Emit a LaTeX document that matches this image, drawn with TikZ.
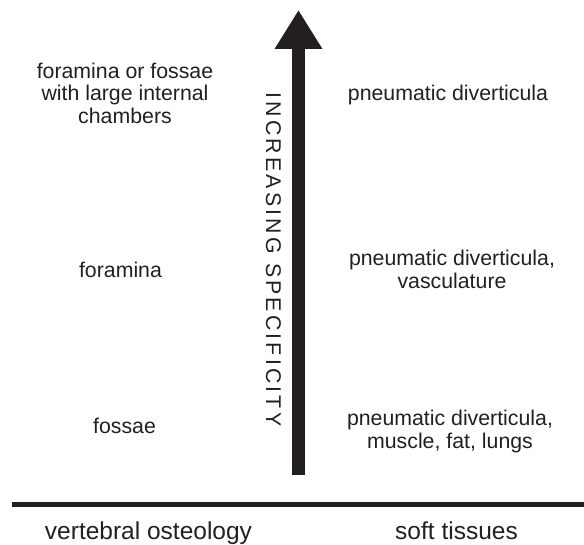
\documentclass[tikz,border=0pt]{standalone}
\usepackage{fontspec}
\setmainfont{Liberation Sans}
\usetikzlibrary{arrows.meta}
\definecolor{ink}{HTML}{231F20}

\begin{document}
\begin{tikzpicture}[x=1pt, y=1pt,
	txt/.style={text=ink, font=\fontsize{21.3}{22.5}\selectfont, align=center, inner sep=0pt, anchor=base},
	axistxt/.style={txt, font=\fontsize{24.5}{27}\selectfont}]
			\useasboundingbox (0,0) rectangle (584,545);
			
			% Mũi tên
			\coordinate (A0) at (298.5,70);
			\coordinate (A1) at (298.5,535);
			\draw[ink, line width=13pt, -{Triangle[width=45pt,length=39pt]}] (A0) -- (A1);
			\node[txt, anchor=center, rotate=-90, font=\fontsize{21.3}{22.5}\selectfont\addfontfeature{LetterSpace=15}] (spec) at (273.5,285.5) {INCREASING SPECIFICITY};
			
			% Đường ngang
			\coordinate (L0) at (12,40.5);
			\coordinate (L1) at (584,40.5);
			\draw[ink, line width=5pt] (L0) -- (L1);
			
			% Cột trái
			\node[txt] (fc) at (125,421.5) {foramina or fossae\\with large internal\\chambers};
			\node[txt] (fo) at (120.5,267.5) {foramina};
			\node[txt] (fs) at (124.5,111.5) {fossae};
			\node[axistxt] (vo) at (148.5,5) {vertebral osteology};
			
			% Cột phải
			\node[txt] (pd) at (448,444.5) {pneumatic diverticula};
			\node[txt] (pv) at (452,256.5) {pneumatic diverticula,\\vasculature};
			\node[txt] (pm) at (450,96.5) {pneumatic diverticula,\\muscle, fat, lungs};
			\node[axistxt] (st) at (456.5,5) {soft tissues};
		\end{tikzpicture}
\end{document}
